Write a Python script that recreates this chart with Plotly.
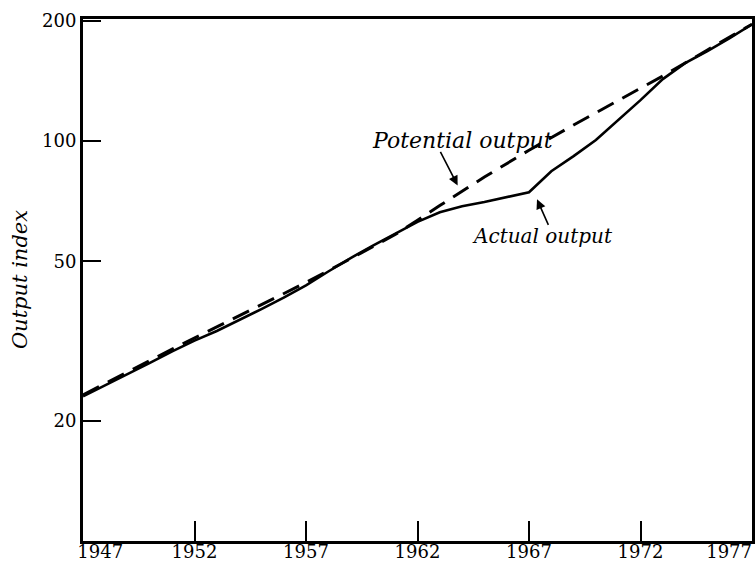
import numpy as np
import plotly.graph_objects as go

# Potential output index (dashed)
potential_years = [1947, 1949, 1951, 1953, 1955, 1957, 1959, 1961, 1962, 1963, 1965,
                   1967, 1969, 1971, 1973, 1975, 1977]
potential_index = [23.2, 26.5, 30.2, 34.3, 38.9, 44.3, 50.8, 58.4, 63.4, 69.0, 81.3,
                   94.9, 109.7, 126.6, 145.5, 169.0, 196.0]

# Actual output index (solid)
actual_years = list(range(1947, 1978))
actual_index = [23.0, 24.5, 26.1, 27.9, 29.8, 31.7, 33.5, 35.6, 38.0, 40.6,
                43.6, 47.2, 51.0, 54.8, 58.7, 62.8, 66.4, 68.7, 70.4, 72.4,
                74.5, 84.1, 91.7, 100.6, 112.9, 126.6, 142.9, 156.6, 168.0, 181.0,
                196.0]

x_ticks = [1947, 1952, 1957, 1962, 1967, 1972, 1977]
y_ticks = [20, 50, 100, 200]

SERIF = "DejaVu Serif"
FS = "\u2007"  # figure space, used to nudge the end labels inside the frame

x_ticktext = [str(v) for v in x_ticks]
x_ticktext[0] = FS * 3 + x_ticktext[0]
x_ticktext[-1] = x_ticktext[-1] + FS * 4

fig = go.Figure()
fig.add_trace(go.Scatter(
    x=potential_years, y=potential_index, mode="lines",
    line=dict(color="black", width=3, dash="18px,10px"),
    name="Potential output", showlegend=False,
))
fig.add_trace(go.Scatter(
    x=actual_years, y=actual_index, mode="lines",
    line=dict(color="black", width=2.6),
    name="Actual output", showlegend=False,
))

# Curve labels with pointer arrows
fig.add_annotation(x=1964.0, y=np.log10(100.6), xref="x", yref="y",
                   text="<i>Potential output</i>", showarrow=False,
                   font=dict(family=SERIF, size=22, color="black"))
fig.add_annotation(x=1963.8, y=np.log10(77.5), xref="x", yref="y",
                   text="", showarrow=True, ax=-18, ay=-35,
                   font=dict(size=1),
                   arrowhead=2, arrowsize=1.2, arrowwidth=1.6, arrowcolor="black")

fig.add_annotation(x=1967.6, y=np.log10(57.8), xref="x", yref="y",
                   text="<i>Actual output</i>", showarrow=False,
                   font=dict(family=SERIF, size=20, color="black"))
fig.add_annotation(x=1967.36, y=np.log10(71.5), xref="x", yref="y",
                   text="", showarrow=True, ax=12, ay=27,
                   font=dict(size=1),
                   arrowhead=2, arrowsize=1.2, arrowwidth=1.6, arrowcolor="black")

# Vertical axis title
fig.add_annotation(x=-0.094, y=0.5, xref="paper", yref="paper",
                   xanchor="center", yanchor="middle",
                   text="<i>Output index</i>", showarrow=False, textangle=-90,
                   font=dict(family=SERIF, size=21, color="black"))

fig.update_xaxes(
    range=[1947, 1977], tickvals=x_ticks, ticktext=x_ticktext,
    ticks="inside", ticklen=20, tickwidth=2, tickcolor="black",
    showline=True, linewidth=3, linecolor="black", mirror=True,
    showgrid=False, zeroline=False,
    ticklabelstandoff=-8, ticklabeloverflow="allow",
    tickfont=dict(family=SERIF, size=18, color="black"),
)
fig.update_yaxes(
    type="log", range=[np.log10(10), np.log10(202)],
    tickvals=y_ticks, ticktext=[str(v) for v in y_ticks],
    ticks="inside", ticklen=18, tickwidth=2, tickcolor="black",
    showline=True, linewidth=3, linecolor="black", mirror=True,
    showgrid=False, zeroline=False, ticklabeloverflow="allow",
    tickfont=dict(family=SERIF, size=18, color="black"),
)

fig.update_layout(
    width=755, height=563,
    margin=dict(l=83, r=3, t=19, b=22, autoexpand=False),
    plot_bgcolor="white", paper_bgcolor="white",
    showlegend=False,
)

fig.write_html("out.html")
